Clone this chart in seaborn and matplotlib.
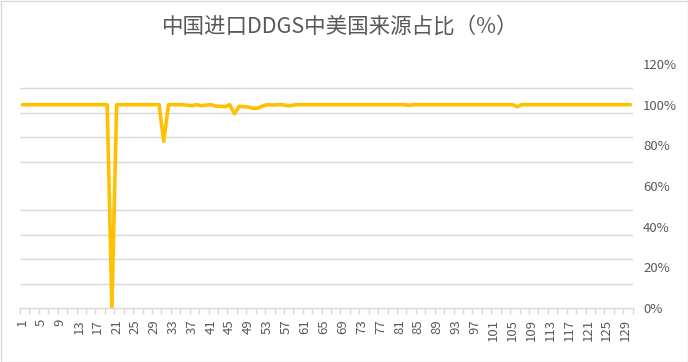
import matplotlib
matplotlib.use("Agg")
import matplotlib.pyplot as plt
import seaborn as sns
import numpy as np
import pandas as pd
from matplotlib.patches import Rectangle

sns.set_theme(style="white")
plt.rcParams['font.family'] = ['Noto Sans CJK SC', 'DejaVu Sans']

title = "中国进口DDGS中美国来源占比（%）"
periods = list(range(1, 131))
share = [
    100, 100, 100, 100, 100, 100, 100, 100, 100, 100,
    100, 100, 100, 100, 100, 100, 100, 100, 100, 0,
    100, 100, 100, 100, 100, 100, 100, 100, 100, 100,
    82, 100, 100, 100, 100, 99.7, 99.5, 100, 99.5, 99.8,
    100, 99.3, 99.2, 99.0, 100, 95.5, 99.2, 99.0, 98.8, 98.2,
    98.3, 99.4, 100, 99.8, 100, 100, 99.6, 99.5, 100, 100,
    100, 100, 100, 100, 100, 100, 100, 100, 100, 100,
    100, 100, 100, 100, 100, 100, 100, 100, 100, 100,
    100, 100, 99.7, 100, 100, 100, 100, 100, 100, 100,
    100, 100, 100, 100, 100, 100, 100, 100, 100, 100,
    100, 100, 100, 100, 100, 99.0, 100, 100, 100, 100,
    100, 100, 100, 100, 100, 100, 100, 100, 100, 100,
    100, 100, 100, 100, 100, 100, 100, 100, 100, 100,
]
y_ticks = [0, 20, 40, 60, 80, 100, 120]
y_tick_labels = ["0%", "20%", "40%", "60%", "80%", "100%", "120%"]
x_tick_labels = list(range(1, 131, 4))

df = pd.DataFrame({"period": periods, "share": share})

fig = plt.figure(figsize=(6.88, 3.62), dpi=100)
ax = fig.add_axes([20 / 688, 1 - 308 / 362, (632.7 - 20) / 688, (308 - 64) / 362])

sns.lineplot(data=df, x="period", y="share", ax=ax, color="#FFC000", linewidth=2.6)

ax.set_xlim(0.5, len(periods) + 0.5)
ax.set_ylim(0, 120)

# y axis on right
ax.yaxis.tick_right()
ax.set_yticks(y_ticks)
ax.set_yticklabels(y_tick_labels)
ax.set_yticks(np.arange(0, 121, 12), minor=True)
ax.tick_params(axis="y", which="both", length=0, pad=7.5, labelsize=9.5, labelcolor="#595959")
ax.grid(False)
ax.grid(axis="y", which="minor", color="#D9D9D9", linewidth=1)

# x axis
ax.set_xticks(x_tick_labels)
ax.set_xticklabels([str(v) for v in x_tick_labels], rotation=90)
ax.set_xticks(np.arange(0.5, len(periods) + 1, 2), minor=True)
ax.tick_params(axis="x", which="major", length=0, pad=8, labelsize=9.5, labelcolor="#595959")
ax.tick_params(axis="x", which="minor", length=4, width=1, color="#D9D9D9", direction="out", bottom=True)

ax.set_xlabel("")
ax.set_ylabel("")
for side in ["left", "right", "top"]:
    ax.spines[side].set_visible(False)
ax.spines["bottom"].set_color("#D9D9D9")
ax.spines["bottom"].set_linewidth(1)

fig.text(0.494, 1 - 27 / 362, title, ha="center", va="center", fontsize=15.5, color="#595959")

fig.patches.append(Rectangle((0.5 / 688, 0.5 / 362), 1 - 1 / 688, 1 - 1 / 362,
                             transform=fig.transFigure, fill=False,
                             edgecolor="#D9D9D9", linewidth=1))

fig.savefig("out.png", dpi=100)
